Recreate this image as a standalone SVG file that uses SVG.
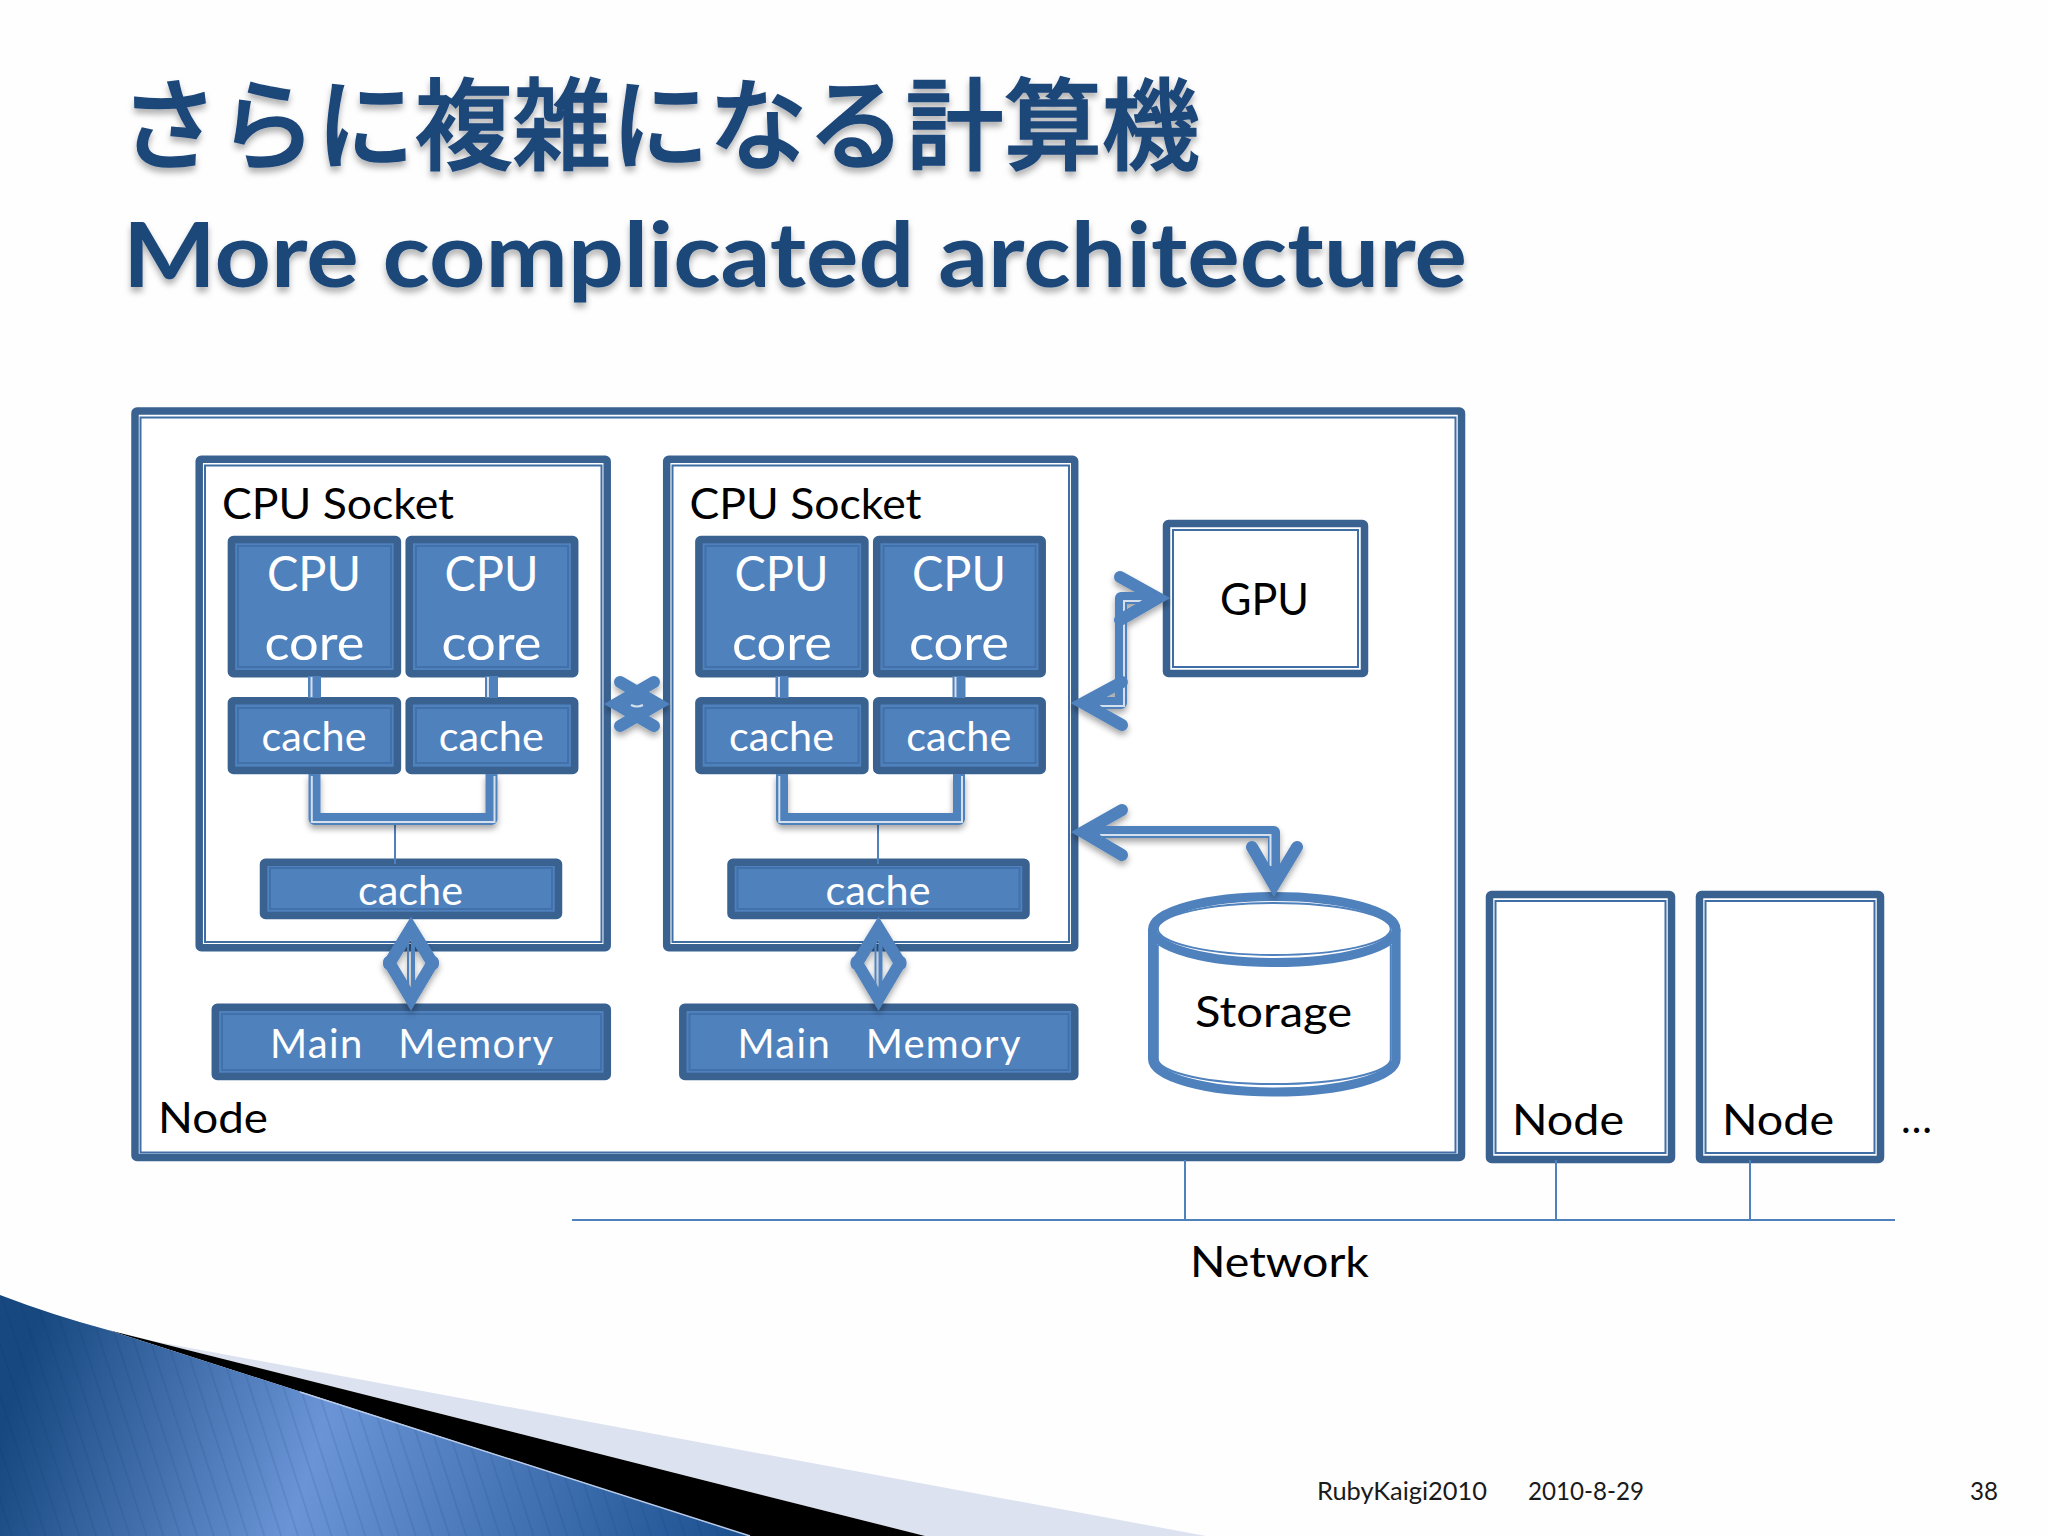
<svg xmlns="http://www.w3.org/2000/svg" width="2048" height="1536" viewBox="0 0 2048 1536">
<style>
text{font-family:"Lato","Noto Sans","Noto Sans CJK JP",sans-serif;fill:#000;white-space:pre}
.t{fill:#1c4679;font-weight:700}
.k{font-size:43px}
.w{fill:#fff;text-anchor:middle}
.f{font-size:25px;fill:#1a1a1a}
.thick{fill:#fff;stroke:#3a6291;stroke-width:7.500;stroke-linejoin:round}
.thin{fill:none;stroke:#3f6ea6;stroke-width:2}
.bf{fill:#4f81bd;stroke:#3a6291;stroke-width:7.500;stroke-linejoin:round}
.bi{fill:none;stroke:#4170aa;stroke-width:2}
.conn{fill:none;stroke:#4f81bd;stroke-width:12;stroke-linejoin:round}
.hl{fill:none;stroke:#d5e0ee;stroke-width:2}
.head{fill:none;stroke:#4f81bd;stroke-width:12;stroke-linecap:round;stroke-linejoin:miter;stroke-miterlimit:6}
.net{fill:none;stroke:#4f81bd;stroke-width:2}
.cy{fill:#fff;stroke:#4f81bd;stroke-width:9}
.cyt{fill:none;stroke:#4f81bd;stroke-width:2}
</style>
<defs>
<filter id="ts" x="-5%" y="-20%" width="110%" height="150%"><feDropShadow dx="0" dy="5" stdDeviation="3" flood-color="#000" flood-opacity=".3"/></filter>
<filter id="cs" x="-30%" y="-30%" width="160%" height="170%"><feDropShadow dx="0" dy="4" stdDeviation="3" flood-color="#000" flood-opacity=".35"/></filter>
<linearGradient id="bg" gradientUnits="userSpaceOnUse" x1="0" y1="1436" x2="690" y2="1659">
<stop offset="0" stop-color="#17487f"/><stop offset=".42" stop-color="#6a94d6"/><stop offset="1" stop-color="#1d5291"/>
</linearGradient>
<pattern id="stripes" width="16" height="16" patternUnits="userSpaceOnUse" patternTransform="rotate(-18)"><rect width="1.500" height="16" fill="#0d2f5c" opacity=".13"/></pattern>
</defs>
<rect id="background" width="2048" height="1536" fill="#fefefe"/>

<g id="decoration">
<path d="M158 1342 L1206 1536 H925 L108 1330 Z" fill="#dce2ef"/>
<path d="M108 1330 L925 1536 H750 Z" fill="#000"/>
<path d="M0 1295 Q52 1315 108 1330 L750 1536 H0 Z" fill="url(#bg)"/>
<path d="M0 1295 Q52 1315 108 1330 L750 1536 H0 Z" fill="url(#stripes)"/>
<path d="M300 1392 L750 1536" fill="none" stroke="#b9cbe6" stroke-width="1.500"/>
</g>

<g id="title">
<text class="t" x="120" y="162" font-size="100" textLength="1080" lengthAdjust="spacingAndGlyphs" filter="url(#ts)" stroke="#1c4679" stroke-width="1.500" style="font-family:'Noto Sans CJK JP','Noto Sans',sans-serif;font-weight:500">さらに複雑になる計算機</text>
<text class="t" x="123" y="287" font-size="90" textLength="1344" lengthAdjust="spacingAndGlyphs" filter="url(#ts)">More complicated architecture</text>
</g>

<g id="node-main">
<rect class="thick" x="135" y="411" width="1326.500" height="746.500" rx="2"/>
<rect class="thin" x="140.500" y="417.500" width="1315" height="735"/>
<text class="k" x="158" y="1133" textLength="110" lengthAdjust="spacingAndGlyphs">Node</text>
</g>

<g id="socket-1">
<rect class="thick" x="199.200" y="459.200" width="408" height="488.500" rx="2"/>
<rect class="thin" x="205" y="465.500" width="396.500" height="476.500"/>
<text class="k" x="222" y="519" textLength="232" lengthAdjust="spacingAndGlyphs">CPU Socket</text>
</g>
<g id="socket-2" transform="translate(467.500 0)">
<rect class="thick" x="199.200" y="459.200" width="408" height="488.500" rx="2"/>
<rect class="thin" x="205" y="465.500" width="396.500" height="476.500"/>
<text class="k" x="222" y="519" textLength="232" lengthAdjust="spacingAndGlyphs">CPU Socket</text>
</g>

<g id="core-1-1"><rect class="bf" x="231.400" y="539.500" width="166" height="134.300" rx="2"/><rect class="bi" x="238" y="546" width="153" height="121"/><text class="w" x="314" y="591" font-size="48" textLength="94" lengthAdjust="spacingAndGlyphs">CPU</text><text class="w" x="314.500" y="660" font-size="48" textLength="100" lengthAdjust="spacingAndGlyphs">core</text></g>
<g id="core-1-2"><rect class="bf" x="409.200" y="539.500" width="165.500" height="134.300" rx="2"/><rect class="bi" x="416" y="546" width="152" height="121"/><text class="w" x="491.500" y="591" font-size="48" textLength="94" lengthAdjust="spacingAndGlyphs">CPU</text><text class="w" x="491.500" y="660" font-size="48" textLength="100" lengthAdjust="spacingAndGlyphs">core</text></g>
<g id="core-2-1" transform="translate(467.500 0)"><rect class="bf" x="231.400" y="539.500" width="166" height="134.300" rx="2"/><rect class="bi" x="238" y="546" width="153" height="121"/><text class="w" x="314" y="591" font-size="48" textLength="94" lengthAdjust="spacingAndGlyphs">CPU</text><text class="w" x="314.500" y="660" font-size="48" textLength="100" lengthAdjust="spacingAndGlyphs">core</text></g>
<g id="core-2-2" transform="translate(467.500 0)"><rect class="bf" x="409.200" y="539.500" width="165.500" height="134.300" rx="2"/><rect class="bi" x="416" y="546" width="152" height="121"/><text class="w" x="491.500" y="591" font-size="48" textLength="94" lengthAdjust="spacingAndGlyphs">CPU</text><text class="w" x="491.500" y="660" font-size="48" textLength="100" lengthAdjust="spacingAndGlyphs">core</text></g>

<g id="cache-1-1"><rect class="bf" x="231.400" y="700.800" width="166" height="69.700" rx="2"/><rect class="bi" x="238" y="708" width="153" height="55"/><text class="w" x="314" y="751" font-size="41" textLength="105" lengthAdjust="spacingAndGlyphs">cache</text></g>
<g id="cache-1-2"><rect class="bf" x="409.200" y="700.800" width="165.500" height="69.700" rx="2"/><rect class="bi" x="416" y="708" width="152" height="55"/><text class="w" x="491.300" y="751" font-size="41" textLength="105" lengthAdjust="spacingAndGlyphs">cache</text></g>
<g id="cache-2-1" transform="translate(467.500 0)"><rect class="bf" x="231.400" y="700.800" width="166" height="69.700" rx="2"/><rect class="bi" x="238" y="708" width="153" height="55"/><text class="w" x="314" y="751" font-size="41" textLength="105" lengthAdjust="spacingAndGlyphs">cache</text></g>
<g id="cache-2-2" transform="translate(467.500 0)"><rect class="bf" x="409.200" y="700.800" width="165.500" height="69.700" rx="2"/><rect class="bi" x="416" y="708" width="152" height="55"/><text class="w" x="491.300" y="751" font-size="41" textLength="105" lengthAdjust="spacingAndGlyphs">cache</text></g>

<g id="l2-cache-1"><rect class="bf" x="263.500" y="862.200" width="295" height="53.300" rx="2"/><rect class="bi" x="270" y="868" width="282" height="41"/><text class="w" x="410.500" y="905" font-size="41" textLength="105" lengthAdjust="spacingAndGlyphs">cache</text></g>
<g id="l2-cache-2" transform="translate(467.500 0)"><rect class="bf" x="263.500" y="862.200" width="295" height="53.300" rx="2"/><rect class="bi" x="270" y="868" width="282" height="41"/><text class="w" x="410.500" y="905" font-size="41" textLength="105" lengthAdjust="spacingAndGlyphs">cache</text></g>

<g id="memory-1"><rect class="bf" x="215.300" y="1007.200" width="392" height="69.300" rx="2"/><rect class="bi" x="222" y="1014" width="379" height="56"/><text class="w" x="411.500" y="1058" font-size="40" textLength="283" lengthAdjust="spacing">Main   Memory</text></g>
<g id="memory-2" transform="translate(467.500 0)"><rect class="bf" x="215.300" y="1007.200" width="392" height="69.300" rx="2"/><rect class="bi" x="222" y="1014" width="379" height="56"/><text class="w" x="411.500" y="1058" font-size="40" textLength="283" lengthAdjust="spacing">Main   Memory</text></g>

<g id="gpu">
<rect class="thick" x="1166.500" y="523.500" width="198" height="150" rx="2"/>
<rect class="thin" x="1173" y="530" width="185" height="137"/>
<text class="k" x="1220" y="615" textLength="89" lengthAdjust="spacingAndGlyphs" style="font-size:44px">GPU</text>
</g>

<g id="storage">
<path class="cy" d="M1152.500 929.500 V1059 A121.800 33 0 0 0 1396.100 1059 V929.500"/>
<ellipse class="cy" cx="1274.300" cy="929.500" rx="121.800" ry="33"/>
<ellipse class="cyt" cx="1274.300" cy="929" rx="116.500" ry="26"/>
<path class="cyt" d="M1157.800 945 V1059 A116.500 25 0 0 0 1390.800 1059 V945"/>
<text class="k" x="1195" y="1027" textLength="157" lengthAdjust="spacingAndGlyphs">Storage</text>
</g>

<g id="node-2">
<rect class="thick" x="1489.500" y="894.500" width="182" height="265" rx="2"/>
<rect class="thin" x="1495.500" y="901" width="170" height="252"/>
<text class="k" x="1512" y="1135" textLength="112" lengthAdjust="spacingAndGlyphs">Node</text>
</g>
<g id="node-3">
<rect class="thick" x="1699.500" y="894.500" width="181" height="265" rx="2"/>
<rect class="thin" x="1705.500" y="901" width="169" height="252"/>
<text class="k" x="1722" y="1135" textLength="112" lengthAdjust="spacingAndGlyphs">Node</text>
</g>
<text id="more" class="k" x="1901" y="1133" textLength="31" lengthAdjust="spacingAndGlyphs">…</text>
<text id="network-label" class="k" x="1190" y="1277" textLength="179" lengthAdjust="spacingAndGlyphs">Network</text>

<g id="connectors">
<g id="network">
<path class="net" d="M572 1220 H1895 M1185 1160 V1220 M1556 1160 V1220 M1750 1160 V1220"/>
</g>
<g id="core-cache-links">
<path class="conn" d="M314.500 676 V698 M491.500 676 V698 M782 676 V698 M959 676 V698" style="stroke-width:13"/>
<path class="hl" d="M311.500 677 V697 M488 677 V697 M779 677 V697 M955.500 677 V697"/>
</g>
<g id="cache-bus-1">
<path class="net" d="M395 822 V864"/>
<path class="conn" filter="url(#cs)" d="M314.500 774 V819 H491.500 V774"/>
<path class="hl" d="M311.800 776 V822 H494.500 V776"/>
</g>
<g id="cache-bus-2">
<path class="net" d="M878 822 V864"/>
<g transform="translate(467.500 0)">
<path class="conn" filter="url(#cs)" d="M314.500 774 V819 H491.500 V774"/>
<path class="hl" d="M311.800 776 V822 H494.500 V776"/>
</g>
</g>
<g id="socket-link" filter="url(#cs)">
<path class="conn" d="M625 704 H650" style="stroke-width:22"/>
<path class="head" d="M654 682 L616 704 L654 726"/>
<path class="head" d="M620 682 L658 704 L620 726"/>
<path class="hl" d="M631 705 Q637 708 643 705"/>
</g>
<g id="memory-link-1" filter="url(#cs)">
<path class="head" d="M389 964 L411 928 L433 964"/>
<path class="head" d="M389 962 L411 999 L433 962"/>
<path class="conn" d="M413 935 V992" style="stroke-width:4"/>
<path class="hl" d="M408 940 V990" style="stroke:#4f81bd"/>
</g>
<g id="memory-link-2" filter="url(#cs)" transform="translate(467.500 0)">
<path class="head" d="M389 964 L411 928 L433 964"/>
<path class="head" d="M389 962 L411 999 L433 962"/>
<path class="conn" d="M413 935 V992" style="stroke-width:4"/>
<path class="hl" d="M408 940 V990" style="stroke:#4f81bd"/>
</g>
<g id="gpu-link" filter="url(#cs)">
<path class="conn" d="M1150 598 H1121 V703 H1085"/>
<path class="hl" d="M1142 601 H1124 V706 H1100"/>
<path class="head" d="M1120 577 L1158 598 L1120 620"/>
<path class="head" d="M1122 682 L1083 703 L1122 725"/>
</g>
<g id="storage-link" filter="url(#cs)">
<path class="conn" d="M1085 832 H1274 V885"/>
<path class="hl" d="M1100 835 H1270.500 V866"/>
<path class="head" d="M1122 810 L1083 832 L1122 855"/>
<path class="head" d="M1252 847 L1274 885 L1297 847"/>
</g>
</g>

<g id="footer">
<text class="f" x="1317" y="1500" textLength="170" lengthAdjust="spacingAndGlyphs">RubyKaigi2010</text>
<text class="f" x="1528" y="1500" textLength="116" lengthAdjust="spacingAndGlyphs">2010-8-29</text>
<text class="f" x="1970" y="1500" textLength="28" lengthAdjust="spacingAndGlyphs">38</text>
</g>
</svg>
